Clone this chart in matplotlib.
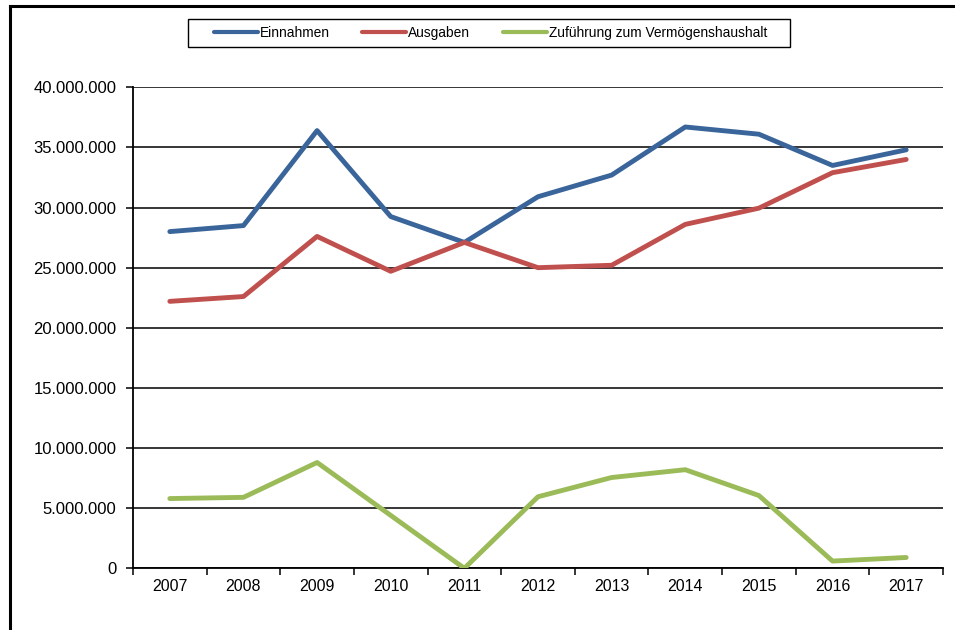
import matplotlib
matplotlib.use('Agg')
import matplotlib.pyplot as plt
import matplotlib.ticker as ticker
from matplotlib.lines import Line2D
from matplotlib.patches import Rectangle
import numpy as np

plt.rcParams['font.family'] = ['Liberation Sans', 'DejaVu Sans']

# data
years = ['2007', '2008', '2009', '2010', '2011', '2012', '2013', '2014', '2015', '2016', '2017']
einnahmen = [28.0, 28.5, 36.4, 29.25, 27.1, 30.9, 32.7, 36.7, 36.1, 33.5, 34.8]
ausgaben = [22.2, 22.6, 27.6, 24.7, 27.1, 25.0, 25.2, 28.6, 29.95, 32.9, 34.0]
zufuehrung = [5.8, 5.9, 8.8, 4.4, 0.0, 5.95, 7.55, 8.2, 6.05, 0.6, 0.9]
series_names = ['Einnahmen', 'Ausgaben', 'Zuführung zum Vermögenshaushalt']
colors = ['#3A659A', '#C0504D', '#9BBB59']

fig = plt.figure(figsize=(9.55, 6.30), dpi=100)
ax = fig.add_axes([133 / 955, 1 - 568.3 / 630, 810 / 955, 481 / 630])

x = np.arange(len(years))
for vals, c, name in zip([einnahmen, ausgaben, zufuehrung], colors, series_names):
    ax.plot(x, np.array(vals) * 1e6, color=c, linewidth=3.5, label=name,
            solid_capstyle='round', solid_joinstyle='round', zorder=3)

ax.set_xlim(-0.5, len(years) - 0.5)
ax.set_ylim(0, 40e6)

# y axis
ax.yaxis.set_major_locator(ticker.MultipleLocator(5e6))
ax.yaxis.set_major_formatter(ticker.FuncFormatter(lambda v, p: f'{int(v):,}'.replace(',', '.')))
ax.grid(axis='y', color='black', linewidth=1.1, zorder=1)
ax.tick_params(axis='y', length=5, width=1.1, color='black', labelsize=12, pad=7)

# x axis: ticks between categories, labels centred
ax.set_xticks(np.arange(-0.5, len(years), 1.0))
ax.set_xticklabels([])
ax.set_xticks(x, minor=True)
ax.set_xticklabels(years, minor=True)
ax.tick_params(axis='x', which='major', length=5, width=1.1, color='black')
ax.tick_params(axis='x', which='minor', length=0, labelsize=11.5, pad=8)

for s in ['top', 'right']:
    ax.spines[s].set_visible(False)
ax.spines['left'].set_linewidth(1.3)
ax.spines['bottom'].set_linewidth(1.3)

# legend at the top, with its own box
fig.add_artist(Rectangle((187.5 / 955, 1 - 47 / 630), 602.5 / 955, 28 / 630, transform=fig.transFigure,
                         facecolor='white', edgecolor='black', linewidth=1.0))
handles = [Line2D([0], [0], color=c, linewidth=3.0, solid_capstyle='round') for c in colors]
leg = fig.legend(handles, series_names, loc='center', bbox_to_anchor=(490.5 / 955, 1 - 33 / 630),
                 ncol=3, fontsize=9.9, frameon=False, handlelength=3.2,
                 handletextpad=0.15, columnspacing=2.35, borderpad=0.2, borderaxespad=0)

# outer frame (top and left edges visible)
fig.add_artist(Line2D([10 / 955, 10 / 955], [0, 1 - 6 / 630], color='black', linewidth=2.2,
                      transform=fig.transFigure))
fig.add_artist(Line2D([10 / 955, 1], [1 - 6 / 630, 1 - 6 / 630], color='black', linewidth=2.2,
                      transform=fig.transFigure))

plt.savefig('out.png', dpi=100)
